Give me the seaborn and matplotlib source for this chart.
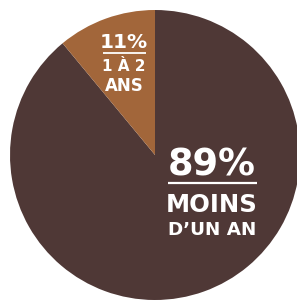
import matplotlib
matplotlib.use("Agg")
import matplotlib.pyplot as plt
import seaborn as sns

sns.set_style("white")
plt.rcParams['font.family'] = ['DejaVu Sans']

labels = ["MOINS\nD\u2019UN AN", "1 \u00c0 2\nANS"]
values = [89, 11]
pct_labels = ["89%", "11%"]
colors = ["#4f3836", "#a2663a"]

fig = plt.figure(figsize=(2.97, 3.0), dpi=100)
ax = fig.add_axes([10 / 297, 0, 290 / 297, 290 / 300])
ax.pie(values, colors=colors, startangle=90, counterclock=False, radius=1,
       wedgeprops=dict(linewidth=0))
ax.set_xlim(-1, 1)
ax.set_ylim(-1, 1)
ax.set_aspect("equal")
ax.axis("off")

def P(px, py):
    return (px - 155) / 145, (155 - py) / 145

# 89% label
x, y = P(212, 175)
ax.text(x, y, pct_labels[0], color="white", fontsize=26.5, fontweight="bold", ha="center", va="baseline")
x1, yl = P(168, 183)
x2, _ = P(257, 183)
ax.plot([x1, x2], [yl, yl], color="white", lw=1.6, solid_capstyle="butt")
l1, l2 = labels[0].split("\n")
x, y = P(212, 212)
ax.text(x, y, l1, color="white", fontsize=17.5, fontweight="bold", ha="center", va="baseline")
x, y = P(212, 235)
ax.text(x, y, l2, color="white", fontsize=13.2, fontweight="bold", ha="center", va="baseline")

# 11% label
x, y = P(124, 48)
ax.text(x, y, pct_labels[1], color="white", fontsize=14.5, fontweight="bold", ha="center", va="baseline")
x1, yl = P(103, 52.5)
x2, _ = P(146, 52.5)
ax.plot([x1, x2], [yl, yl], color="white", lw=1.3, solid_capstyle="butt")
l1, l2 = labels[1].split("\n")
x, y = P(124, 71)
ax.text(x, y, l1, color="white", fontsize=11, fontweight="bold", ha="center", va="baseline")
x, y = P(124, 91)
ax.text(x, y, l2, color="white", fontsize=12, fontweight="bold", ha="center", va="baseline")

fig.savefig("out.png", dpi=100, facecolor="white")
